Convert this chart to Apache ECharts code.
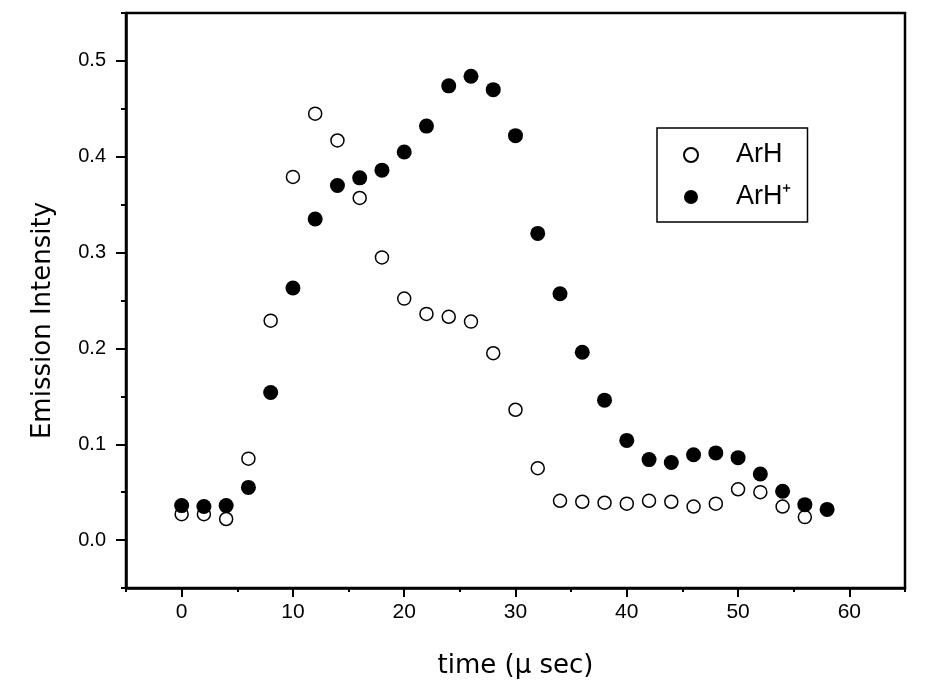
<!DOCTYPE html>
<html>
<head>
<meta charset="utf-8">
<script src="https://cdn.jsdelivr.net/npm/echarts@6/dist/echarts.min.js"></script>
<style>
  html, body { margin: 0; padding: 0; background: #fff; }
  #chart { width: 925px; height: 687px; }
</style>
</head>
<body>
<div id="chart"></div>
<script>
// time in microseconds
const timeArH = [0, 2, 4, 6, 8, 10, 12, 14, 16, 18, 20, 22, 24, 26, 28, 30, 32, 34, 36, 38, 40, 42, 44, 46, 48, 50, 52, 54, 56]
const valArH = [0.027, 0.027, 0.022, 0.085, 0.229, 0.379, 0.445, 0.417, 0.357, 0.295, 0.252, 0.236, 0.233, 0.228, 0.195, 0.136, 0.075, 0.041, 0.040, 0.039, 0.038, 0.041, 0.040, 0.035, 0.038, 0.053, 0.050, 0.035, 0.024]

const timeArHp = [0, 2, 4, 6, 8, 10, 12, 14, 16, 18, 20, 22, 24, 26, 28, 30, 32, 34, 36, 38, 40, 42, 44, 46, 48, 50, 52, 54, 56, 58]
const valArHp = [0.036, 0.035, 0.036, 0.055, 0.154, 0.263, 0.335, 0.370, 0.378, 0.386, 0.405, 0.432, 0.474, 0.484, 0.470, 0.422, 0.320, 0.257, 0.196, 0.146, 0.104, 0.084, 0.081, 0.089, 0.091, 0.086, 0.069, 0.051, 0.037, 0.032]

const xTicks = [0, 10, 20, 30, 40, 50, 60]
const yTicks = [0, 0.1, 0.2, 0.3, 0.4, 0.5]

const zip = (xs, ys) => xs.map((x, i) => [x, ys[i]])

const chart = echarts.init(document.getElementById('chart'))

const font = 'Liberation Sans, Arial, sans-serif'
const nameFont = 'DejaVu Sans, sans-serif'
const line = { color: '#000', width: 2.5 }

chart.setOption({
  animation: false,
  grid: {
    left: 126,
    right: 20,
    top: 13,
    bottom: 99,
    show: true,
    borderColor: '#000',
    borderWidth: 2.5
  },
  legend: {
    orient: 'vertical',
    left: 657,
    top: 128,
    padding: [12, 16, 10, 26],
    itemGap: 12,
    itemWidth: 14,
    itemHeight: 14,
    borderColor: '#000',
    borderWidth: 1.5,
    textStyle: {
      fontFamily: font,
      fontSize: 27,
      lineHeight: 30,
      color: '#000',
      padding: [0, 0, 0, 33]
    },
    formatter: (name) => name === 'ArH+' ? 'ArH\u207A' : name
  },
  xAxis: [
    {
      // minor ticks every 5
      type: 'value',
      min: -5,
      max: 65,
      interval: 5,
      offset: 0,
      axisLine: { show: true, onZero: false, lineStyle: line },
      axisTick: { show: true, length: 4, lineStyle: { color: '#000', width: 2 } },
      axisLabel: { show: false },
      splitLine: { show: false }
    },
    {
      type: 'value',
      position: 'bottom',
      min: -5,
      max: 65,
      offset: 0,
      axisLine: { show: false, onZero: false },
      axisTick: { show: true, length: 9, lineStyle: { color: '#000', width: 2 }, customValues: xTicks },
      splitLine: { show: false },
      axisLabel: {
        fontFamily: font,
        fontSize: 21,
        color: '#000',
        margin: 14,
        customValues: xTicks
      },
      name: 'time (μ sec)',
      nameLocation: 'middle',
      nameGap: 65,
      nameTextStyle: { fontFamily: nameFont, fontSize: 26, color: '#000' }
    }
  ],
  yAxis: [
    {
      type: 'value',
      min: -0.05,
      max: 0.55,
      interval: 0.05,
      offset: 0,
      axisLine: { show: true, onZero: false, lineStyle: line },
      axisTick: { show: true, length: 5, lineStyle: { color: '#000', width: 2 } },
      axisLabel: { show: false },
      splitLine: { show: false }
    },
    {
      type: 'value',
      position: 'left',
      min: -0.05,
      max: 0.55,
      offset: 0,
      axisLine: { show: false, onZero: false },
      axisTick: { show: true, length: 10, lineStyle: { color: '#000', width: 2 }, customValues: yTicks },
      splitLine: { show: false },
      axisLabel: {
        fontFamily: font,
        fontSize: 20,
        color: '#000',
        margin: 20,
        customValues: yTicks,
        formatter: (v) => v.toFixed(1)
      },
      name: 'Emission Intensity',
      nameLocation: 'middle',
      nameGap: 70,
      nameTextStyle: { fontFamily: nameFont, fontSize: 26, color: '#000', padding: [0, 40, 0, 0] }
    }
  ],
  series: [
    {
      name: 'ArH',
      type: 'scatter',
      symbol: 'circle',
      symbolSize: 13,
      itemStyle: { color: '#fff', borderColor: '#000', borderWidth: 1.5, opacity: 1 },
      data: zip(timeArH, valArH),
      z: 2
    },
    {
      name: 'ArH+',
      type: 'scatter',
      symbol: 'circle',
      symbolSize: 15,
      itemStyle: { color: '#000', opacity: 1 },
      data: zip(timeArHp, valArHp),
      z: 3
    }
  ]
})
</script>
</body>
</html>
